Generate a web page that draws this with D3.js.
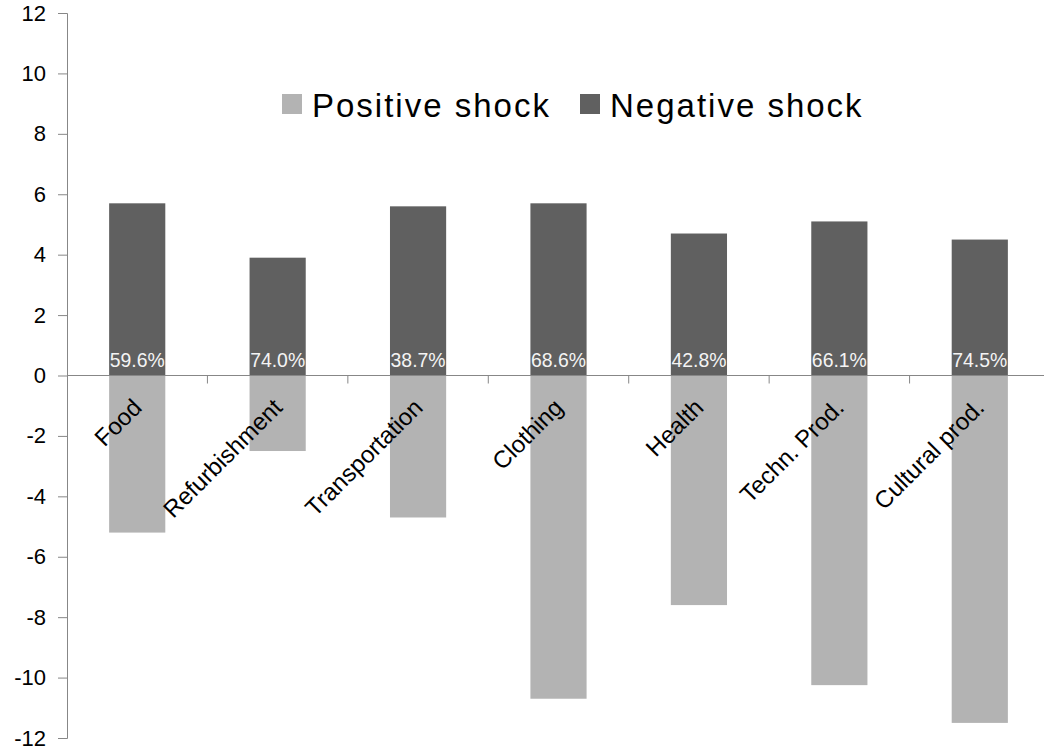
<!DOCTYPE html>
<html>
<head>
<meta charset="utf-8">
<script src="https://cdn.jsdelivr.net/npm/d3@7"></script>
<style>
  body { margin: 0; background: #fff; }
  svg text { font-family: "Liberation Sans", Arial, sans-serif; }
</style>
</head>
<body>
<svg id="chart"></svg>
<script>
const width = 1044;
const height = 752;

// data
const categories = ["Food", "Refurbishment", "Transportation", "Clothing", "Health", "Techn. Prod.", "Cultural prod."];
const positiveShock = [-5.2, -2.5, -4.7, -10.7, -7.6, -10.25, -11.5];
const negativeShock = [5.7, 3.9, 5.6, 5.7, 4.7, 5.1, 4.5];
const shares = ["59.6%", "74.0%", "38.7%", "68.6%", "42.8%", "66.1%", "74.5%"];
const yTicks = [-12, -10, -8, -6, -4, -2, 0, 2, 4, 6, 8, 10, 12];

const colors = { pos: "#b3b3b3", neg: "#606060", axis: "#878787" };

const svg = d3.select("#chart")
    .attr("width", width)
    .attr("height", height);

const x = d3.scaleBand()
    .domain(categories)
    .range([67, 1050])
    .paddingInner(0.6)
    .paddingOuter(0.3);

const y = d3.scaleLinear()
    .domain([-12, 12])
    .range([738, 13]);

// bars: positive shock below zero, negative shock above
svg.append("g").selectAll("rect")
    .data(categories)
    .enter()
    .append("rect")
    .attr("x", d => x(d))
    .attr("width", x.bandwidth())
    .attr("y", y(0))
    .attr("height", (d, i) => y(positiveShock[i]) - y(0))
    .attr("fill", colors.pos);

svg.append("g").selectAll("rect")
    .data(categories)
    .enter()
    .append("rect")
    .attr("x", d => x(d))
    .attr("width", x.bandwidth())
    .attr("y", (d, i) => y(negativeShock[i]))
    .attr("height", (d, i) => y(0) - y(negativeShock[i]))
    .attr("fill", colors.neg);

// y axis (plain hyphen for negatives, like the original)
const yAxis = svg.append("g")
    .attr("transform", "translate(67,0)")
    .call(d3.axisLeft(y).tickValues(yTicks).tickSize(9).tickPadding(12)
        .tickFormat(d => String(d)));
yAxis.select(".domain").attr("stroke", colors.axis);
yAxis.selectAll(".tick line").attr("stroke", colors.axis);
yAxis.selectAll(".tick text")
    .attr("fill", "#000")
    .style("font-size", "22px")
    .style("font-family", "'Liberation Sans', Arial, sans-serif");

// zero line with category separators
const step = x.step();
svg.append("line")
    .attr("x1", 67).attr("x2", width)
    .attr("y1", y(0)).attr("y2", y(0))
    .attr("stroke", colors.axis);

svg.append("g").selectAll("line")
    .data(categories.slice(1))
    .enter()
    .append("line")
    .attr("x1", d => x(d) - (step - x.bandwidth()) / 2)
    .attr("x2", d => x(d) - (step - x.bandwidth()) / 2)
    .attr("y1", y(0))
    .attr("y2", y(0) + 8)
    .attr("stroke", colors.axis);

// share labels inside the dark bars (narrow, tall text)
svg.append("g").selectAll("text")
    .data(categories)
    .enter()
    .append("text")
    .attr("x", d => x(d) + x.bandwidth() / 2)
    .attr("y", y(0) - 9)
    .attr("text-anchor", "middle")
    .attr("fill", "#f4f4f4")
    .attr("textLength", 55)
    .attr("lengthAdjust", "spacingAndGlyphs")
    .style("font-size", "21px")
    .text((d, i) => shares[i]);

// rotated category labels
svg.append("g").selectAll("text")
    .data(categories)
    .enter()
    .append("text")
    .attr("transform", d => `translate(${x(d) + x.bandwidth() / 2 + 6}, 409) rotate(-45)`)
    .attr("text-anchor", "end")
    .attr("fill", "#000")
    .style("font-size", "24px")
    .text(d => d);

// legend
const legendItems = [
    { label: "Positive shock", color: colors.pos, x: 282 },
    { label: "Negative shock", color: colors.neg, x: 580 }
];
const legend = svg.append("g").selectAll("g")
    .data(legendItems)
    .enter()
    .append("g")
    .attr("transform", d => `translate(${d.x}, 94)`);

legend.append("rect")
    .attr("width", 20)
    .attr("height", 20)
    .attr("fill", d => d.color);

legend.append("text")
    .attr("x", 30)
    .attr("y", 22.5)
    .attr("fill", "#000")
    .style("font-size", "33px")
    .style("letter-spacing", "2px")
    .text(d => d.label);
</script>
</body>
</html>
